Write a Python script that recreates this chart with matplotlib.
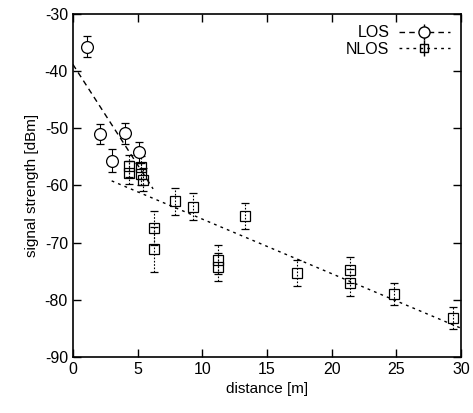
import matplotlib
matplotlib.use('Agg')
import matplotlib.pyplot as plt

# --- data ---
los_dist = [1.1, 2.1, 3.0, 4.0, 5.1]
los_sig = [-35.7, -51.0, -55.7, -50.9, -54.2]
los_err = [1.8, 1.8, 2.0, 1.8, 1.8]

nlos_dist = [4.3, 4.3, 5.3, 5.3, 5.4, 6.3, 6.3, 7.9, 9.3, 11.2, 11.2, 13.3, 17.3, 21.4, 21.4, 24.8, 29.4]
nlos_sig = [-56.6, -57.8, -56.8, -58.0, -59.0, -67.5, -71.2, -62.8, -63.7, -73.0, -74.3,
            -65.4, -75.3, -74.8, -77.0, -79.0, -83.2]
nlos_err = [2.0, 2.0, 2.0, 2.0, 2.0, 3.0, 4.0, 2.3, 2.3, 2.5, 2.5, 2.3, 2.3, 2.3, 2.3, 2.0, 2.0]

los_fit_x = [0.0, 6.2]
los_fit_y = [-38.8, -60.6]
nlos_fit_x = [3.0, 30.0]
nlos_fit_y = [-59.2, -85.0]

plt.rcParams['font.family'] = ['Liberation Sans', 'DejaVu Sans']
plt.rcParams['axes.unicode_minus'] = False

fig = plt.figure(figsize=(4.73, 4.13), dpi=100)
ax = fig.add_axes([0.154, 0.136, 0.821, 0.830])

ax.errorbar(los_dist, los_sig, yerr=los_err, fmt='o', mfc='white', mec='black', ecolor='black',
            ms=8.5, mew=0.9, elinewidth=0.8, capsize=3, zorder=3)
ax.errorbar(nlos_dist, nlos_sig, yerr=nlos_err, fmt='s', mfc='none', mec='black', ecolor='black',
            ms=7, mew=0.9, elinewidth=0.8, capsize=3, zorder=3)
# dotted error bars for NLOS
for c in ax.containers[-1].lines[2]:
    c.set_linestyle((0, (1.5, 1.5)))

ax.plot(los_fit_x, los_fit_y, color='black', lw=1.0, ls=(0, (4, 3)))
ax.plot(nlos_fit_x, nlos_fit_y, color='black', lw=1.0, ls=(0, (2, 3)))

# legend entries (gnuplot-style: label then sample)
h1 = ax.errorbar([], [], yerr=[], fmt='o', mfc='white', mec='black', ecolor='black', ms=8,
                 ls=(0, (4, 3)), color='black', lw=1.0)
h2 = ax.errorbar([], [], yerr=[], fmt='s', mfc='none', mec='black', ecolor='black', ms=6,
                 ls=(0, (2, 3)), color='black', lw=1.0)
ax.legend([h1, h2], ['LOS', 'NLOS'], loc='upper right', frameon=False, markerfirst=False,
          fontsize=11.5, handlelength=3.2, borderaxespad=0.3, labelspacing=0.1, handletextpad=0.6)

ax.set_xlim(0, 30)
ax.set_ylim(-90, -30)
ax.set_xticks([0, 5, 10, 15, 20, 25, 30])
ax.set_yticks([-90, -80, -70, -60, -50, -40, -30])
ax.tick_params(direction='in', top=True, right=True, length=6, width=1, labelsize=11.5)
for s in ax.spines.values():
    s.set_linewidth(1.2)
ax.set_xlabel('distance [m]', fontsize=11)
ax.set_ylabel('signal strength [dBm]', fontsize=11)

plt.savefig('out.png', dpi=100)
